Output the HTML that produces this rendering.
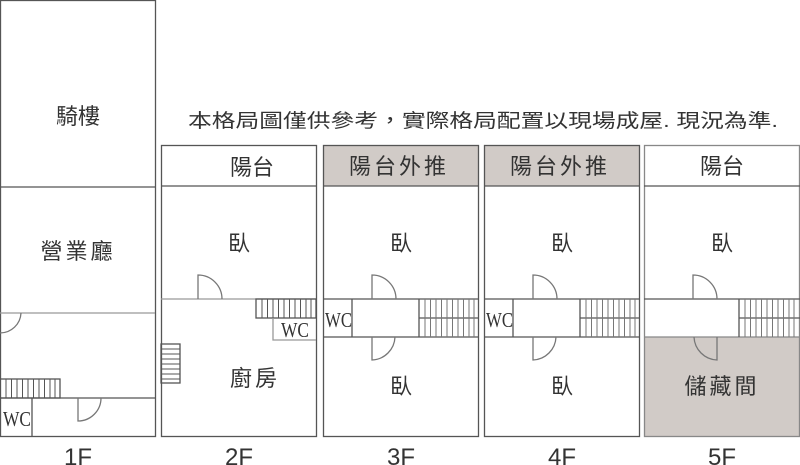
<!DOCTYPE html>
<html><head><meta charset="utf-8"><style>
html,body{margin:0;padding:0;background:#fff;}
svg{display:block;}
text{font-family:"Liberation Sans","Noto Sans CJK TC",sans-serif;fill:#333;}
text.wc{font-family:"Liberation Serif",serif;}
</style></head><body>
<svg width="800" height="465" viewBox="0 0 800 465" xmlns="http://www.w3.org/2000/svg">
<g fill="none" stroke="#555" stroke-width="1.3">
<!-- 1F -->
<rect x="0.5" y="0.5" width="155" height="436"/>
<line x1="0" y1="187" x2="155" y2="187"/>
<line x1="0" y1="313" x2="155" y2="313" stroke="#999"/>
<path d="M0 333 A21 21 0 0 0 21 313" stroke="#777"/>
<rect x="0" y="379" width="60" height="19"/>
<path d="M6 379V398M11.5 379V398M17 379V398M22.5 379V398M28 379V398M33.5 379V398M39 379V398M44.5 379V398M50 379V398M55 379V398" stroke-width="1"/>
<line x1="0" y1="398" x2="155" y2="398"/>
<line x1="32" y1="398" x2="32" y2="436"/>
<path d="M78 398V421A23 23 0 0 0 101 398" stroke="#777"/>
<!-- 2F -->
<rect x="161.5" y="145.5" width="155" height="291"/>
<line x1="161" y1="186" x2="316" y2="186"/>
<line x1="161" y1="299" x2="316" y2="299" stroke="#999"/>
<path d="M198 299V275A24 24 0 0 1 222 299" stroke="#777"/>
<rect x="256" y="299" width="60" height="19"/>
<path d="M262 299V318M267.5 299V318M273 299V318M278.5 299V318M284 299V318M289.5 299V318M295 299V318M300.5 299V318M306 299V318M311 299V318" stroke-width="1"/>
<path d="M273 318V340H316" stroke="#999"/>
<rect x="161" y="344" width="19" height="39"/>
<path d="M161 349H180M161 354H180M161 359H180M161 364H180M161 369H180M161 374H180M161 379H180" stroke-width="1"/>
</g>
<g fill="none" stroke="#555" stroke-width="1.3">
<rect x="323" y="145" width="155" height="41" fill="#d1cbc7" stroke="none"/>
<rect x="323.5" y="145.5" width="155" height="291"/>
<line x1="323" y1="186" x2="478" y2="186"/>
<line x1="323" y1="299" x2="478" y2="299"/>
<line x1="323" y1="337" x2="478" y2="337"/>
<line x1="352" y1="299" x2="352" y2="337"/>
<line x1="419" y1="299" x2="419" y2="337"/>
<line x1="419" y1="318" x2="478" y2="318"/>
<path d="M425 299V337M430.5 299V337M436 299V337M441.5 299V337M447 299V337M452.5 299V337M458 299V337M463.5 299V337M469 299V337M474 299V337" stroke-width="1" stroke="#777"/>
<path d="M372 299V275A24 24 0 0 1 396 299" stroke="#777"/>
<path d="M372 337V360A24 24 0 0 0 395 337" stroke="#777"/>

<rect x="484" y="145" width="155" height="41" fill="#d1cbc7" stroke="none"/>
<rect x="484.5" y="145.5" width="155" height="291"/>
<line x1="484" y1="186" x2="639" y2="186"/>
<line x1="484" y1="299" x2="639" y2="299"/>
<line x1="484" y1="337" x2="639" y2="337"/>
<line x1="513" y1="299" x2="513" y2="337"/>
<line x1="580" y1="299" x2="580" y2="337"/>
<line x1="580" y1="318" x2="639" y2="318"/>
<path d="M586 299V337M591.5 299V337M597 299V337M602.5 299V337M608 299V337M613.5 299V337M619 299V337M624.5 299V337M630 299V337M635 299V337" stroke-width="1" stroke="#777"/>
<path d="M533 299V275A24 24 0 0 1 557 299" stroke="#777"/>
<path d="M533 337V360A24 24 0 0 0 556 337" stroke="#777"/>
<!-- 5F -->
<rect x="645" y="337" width="155" height="99" fill="#d1cbc7" stroke="none"/>
<rect x="644.5" y="145.5" width="155" height="291" stroke="#888"/>
<line x1="644" y1="186" x2="800" y2="186"/>
<line x1="644" y1="299" x2="800" y2="299"/>
<line x1="644" y1="337" x2="800" y2="337" stroke="#888"/>
<line x1="739" y1="299" x2="739" y2="337"/>
<line x1="739" y1="318" x2="800" y2="318"/>
<path d="M745 299V337M750.5 299V337M756 299V337M761.5 299V337M767 299V337M772.5 299V337M778 299V337M783.5 299V337M789 299V337M794 299V337" stroke-width="1" stroke="#777"/>
<path d="M693 299V275A24 24 0 0 1 717 299" stroke="#777"/>
<path d="M717 337V360A24 24 0 0 1 694 337" stroke="#777"/>
</g>
<g font-size="22" text-anchor="middle">
<text x="78" y="124">騎樓</text>
<text x="78" y="259" letter-spacing="3">營業廳</text>
<text x="483" y="127" font-size="19" textLength="590" lengthAdjust="spacingAndGlyphs">本格局圖僅供參考，實際格局配置以現場成屋. 現況為準.</text>
<text x="252" y="175">陽台</text>
<text x="399" y="174" letter-spacing="3">陽台外推</text>
<text x="560" y="174" letter-spacing="3">陽台外推</text>
<text x="722" y="174">陽台</text>
<text x="239" y="251">臥</text>
<text x="401" y="251">臥</text>
<text x="562" y="251">臥</text>
<text x="722" y="251">臥</text>
<text x="401" y="394">臥</text>
<text x="562" y="394">臥</text>
<text x="255" y="386" letter-spacing="3">廚房</text>
<text x="722" y="394" letter-spacing="3">儲藏間</text>
</g>
<g font-size="21">
<text class="wc" x="3" y="426" textLength="28" lengthAdjust="spacingAndGlyphs">WC</text>
<text class="wc" x="281" y="337" textLength="28" lengthAdjust="spacingAndGlyphs">WC</text>
<text class="wc" x="325" y="327" textLength="27" lengthAdjust="spacingAndGlyphs">WC</text>
<text class="wc" x="486" y="327" textLength="27" lengthAdjust="spacingAndGlyphs">WC</text>
</g>
<g font-size="24" text-anchor="middle" fill="#222">
<text x="78" y="465">1F</text>
<text x="239" y="465">2F</text>
<text x="401" y="465">3F</text>
<text x="562" y="465">4F</text>
<text x="722" y="465">5F</text>
</g>
</svg>
</body></html>
